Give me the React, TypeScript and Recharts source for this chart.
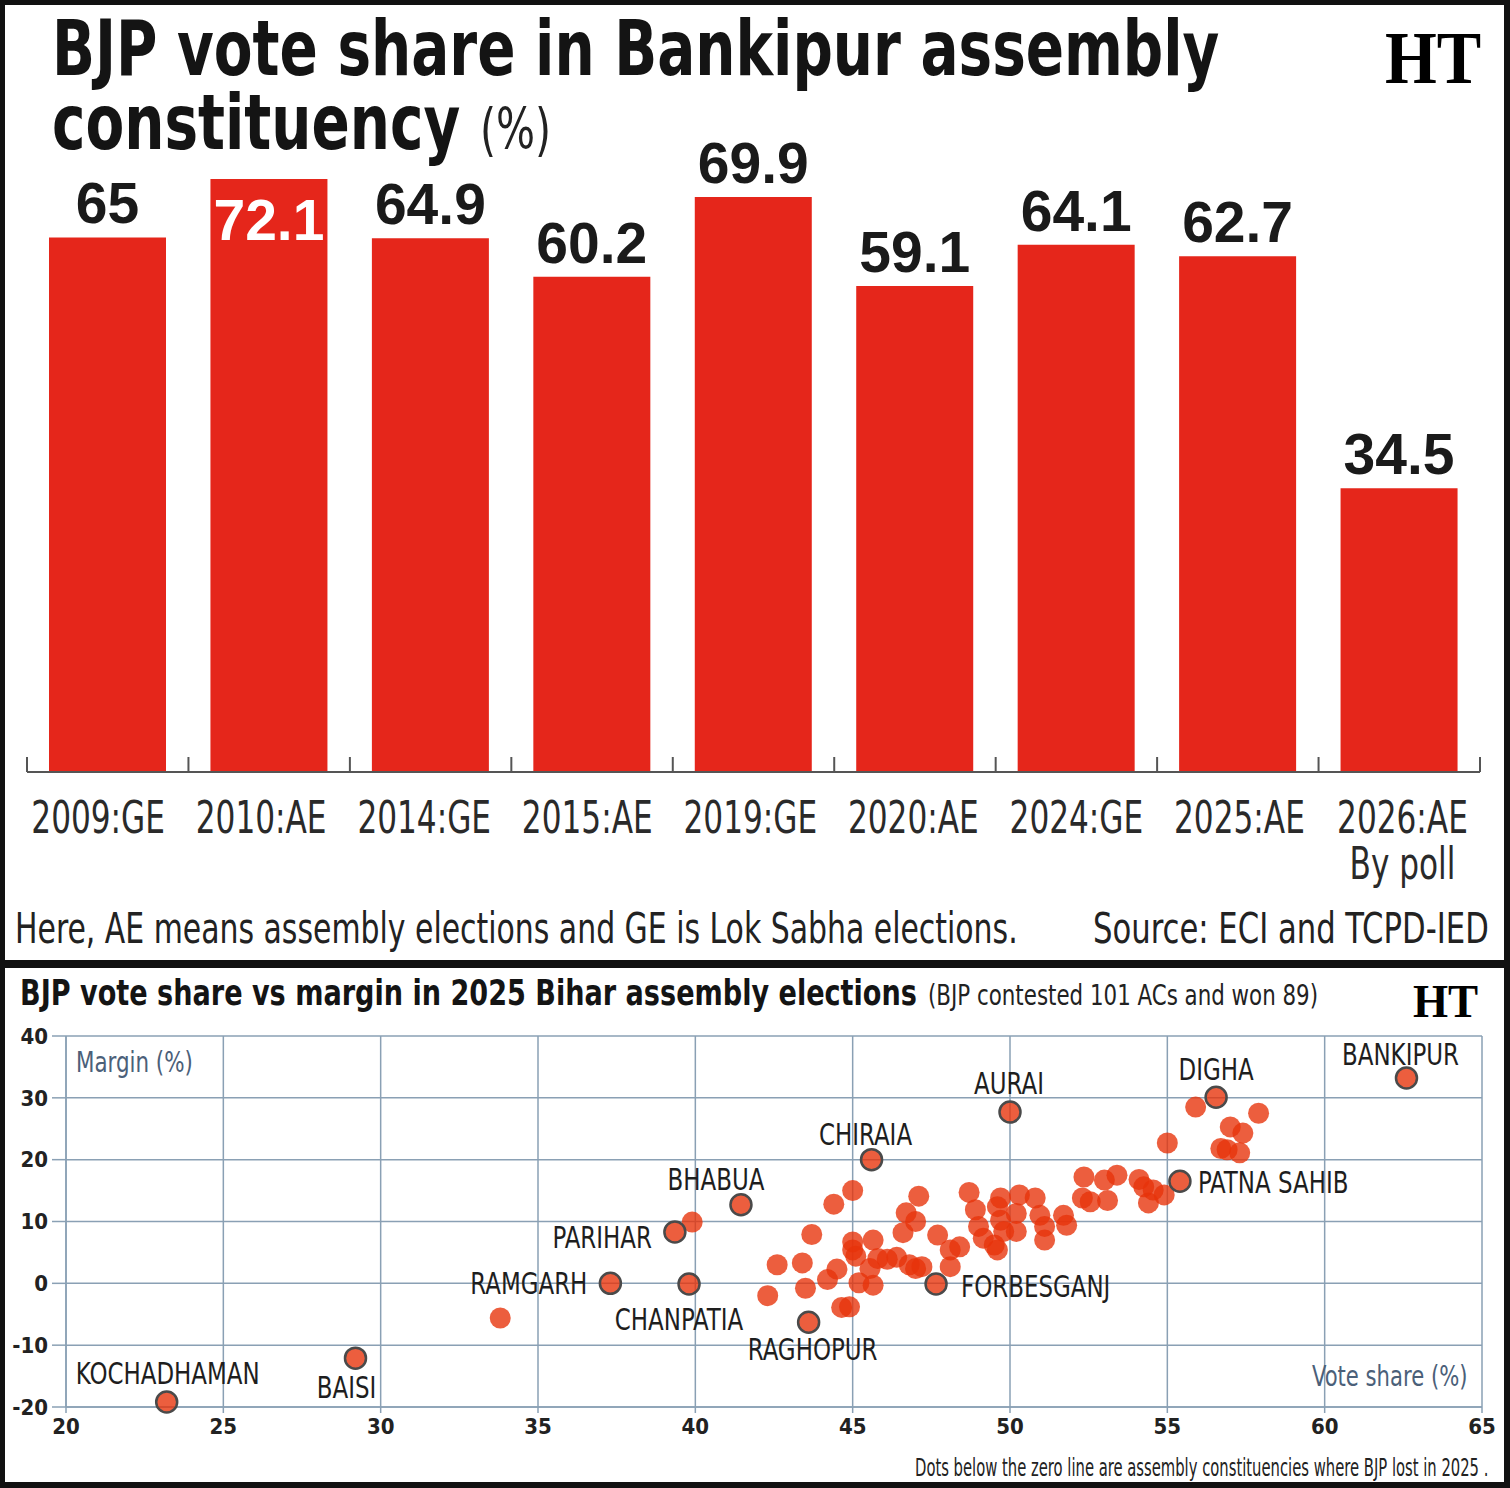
import {
  Bar,
  BarChart,
  CartesianGrid,
  LabelList,
  Scatter,
  ScatterChart,
  XAxis,
  YAxis,
} from 'recharts';

const NARROW = "'DejaVu Sans Condensed', 'Liberation Sans Narrow', 'Open Sans', sans-serif";
const WIDE = "'Liberation Sans', 'Open Sans', sans-serif";
const SERIF = "'Liberation Serif', 'DejaVu Serif', serif";

const BAR_RED = '#e5261b';
const DOT_RED = '#e7330a';
const GRID = '#8aa0b4';
const AXIS = '#555';

// ---- top chart: BJP vote share in Bankipur ----
const elections = [
  '2009:GE',
  '2010:AE',
  '2014:GE',
  '2015:AE',
  '2019:GE',
  '2020:AE',
  '2024:GE',
  '2025:AE',
  '2026:AE',
];
const electionNotes = ['', '', '', '', '', '', '', '', 'By poll'];
const bjpShare = [65, 72.1, 64.9, 60.2, 69.9, 59.1, 64.1, 62.7, 34.5];

// ---- bottom chart: vote share vs margin, 2025 ----
const acShare = [
  33.8, 39.9, 42.3, 42.6, 43.4, 43.5, 43.7, 44.2, 44.4, 44.5, 44.65, 44.9,
  45.0, 45.0, 45.0, 45.1, 45.2, 45.65, 45.65, 45.55, 45.8, 46.1, 46.4, 46.8,
  47.0, 46.6, 46.7, 47.0, 47.1, 47.2, 47.7, 48.1, 48.1, 48.4, 48.7, 48.9,
  49.0, 49.15, 49.5, 49.6, 49.7, 49.6, 49.7, 49.8, 50.3, 50.2, 50.2, 50.8,
  50.95, 51.1, 51.1, 51.7, 51.8, 52.35, 52.3, 52.55, 53.0, 53.1, 53.4, 54.1,
  54.25, 54.4, 54.55, 54.9, 55.0, 55.9, 56.7, 56.9, 57.0, 57.3, 57.4, 57.9,
];
const acMargin = [
  -5.6, 9.9, -2.0, 3.0, 3.3, -0.8, 7.9, 0.6, 12.8, 2.3, -3.9, -3.8, 15.0,
  6.7, 5.4, 4.4, 0.1, -0.3, 7.0, 2.4, 4.0, 3.9, 4.2, 3.0, 2.4, 8.2, 11.4,
  10.0, 14.1, 2.7, 7.8, 2.7, 5.4, 5.9, 14.7, 11.9, 9.2, 7.3, 6.2, 5.4, 13.8,
  12.4, 10.2, 8.4, 14.3, 11.3, 8.4, 13.8, 11.0, 9.2, 7.0, 11.0, 9.4, 17.2,
  13.8, 13.2, 16.7, 13.4, 17.5, 16.8, 15.6, 13.0, 15.1, 14.3, 22.7, 28.5,
  21.8, 21.6, 25.3, 21.1, 24.3, 27.5,
];

const namedACs = [
  'KOCHADHAMAN',
  'BAISI',
  'RAMGARH',
  'PARIHAR',
  'CHANPATIA',
  'BHABUA',
  'RAGHOPUR',
  'CHIRAIA',
  'FORBESGANJ',
  'AURAI',
  'PATNA SAHIB',
  'DIGHA',
  'BANKIPUR',
];
const namedShare = [23.2, 29.2, 37.3, 39.35, 39.8, 41.45, 43.6, 45.6, 47.65, 50.0, 55.4, 56.55, 62.6];
const namedMargin = [-19.2, -12.1, 0.0, 8.3, -0.1, 12.7, -6.3, 20.0, -0.1, 27.7, 16.5, 30.1, 33.2];

const shareTicks = [20, 25, 30, 35, 40, 45, 50, 55, 60, 65];
const marginTicks = [-20, -10, 0, 10, 20, 30, 40];

// where each name sits next to its dot
const labelSide: Record<string, { side: 'top' | 'bottom' | 'left' | 'right'; dx: number; dy: number }> = {
  KOCHADHAMAN: { side: 'top', dx: 1, dy: -18 },
  BAISI: { side: 'bottom', dx: -9, dy: 40 },
  RAMGARH: { side: 'left', dx: -23, dy: 11 },
  PARIHAR: { side: 'left', dx: -23, dy: 16 },
  CHANPATIA: { side: 'bottom', dx: -10, dy: 46 },
  BHABUA: { side: 'top', dx: -25, dy: -15 },
  RAGHOPUR: { side: 'bottom', dx: 4, dy: 38 },
  CHIRAIA: { side: 'top', dx: -6, dy: -15 },
  FORBESGANJ: { side: 'right', dx: 25, dy: 13 },
  AURAI: { side: 'top', dx: -1, dy: -18 },
  'PATNA SAHIB': { side: 'right', dx: 18, dy: 12 },
  DIGHA: { side: 'top', dx: 0, dy: -17 },
  BANKIPUR: { side: 'top', dx: -6, dy: -13 },
};

const barData = elections.map((e, i) => ({ election: e, note: electionNotes[i], share: bjpShare[i] }));
const otherACs = acShare.map((v, i) => ({ share: v, margin: acMargin[i] }));
const labelledACs = namedACs.map((n, i) => ({ name: n, share: namedShare[i], margin: namedMargin[i] }));

const INSIDE_LABEL = 1; // 72.1 sits inside its bar under the title

// squeezed text: the HT face is far narrower than anything installed
const SqText = ({ x, y, sx, anchor = 'start', children, ...rest }: any) => (
  <text transform={`translate(${x},${y}) scale(${sx},1)`} textAnchor={anchor} {...rest}>
    {children}
  </text>
);

// category label plus the small upward ticks on the band edges
const ElectionTick = (props: any) => {
  const { x, y, payload, index } = props;
  const note = electionNotes[index];
  const half = payload && payload.offset ? payload.offset : 0;
  const last = index === elections.length - 1;
  // labels in the original are spread a touch wider than the bars
  const shift = (index - 6) * 1.6;
  return (
    <g>
      {half ? (
        <line x1={x - half} x2={x - half} y1={y - 15} y2={y} stroke={AXIS} strokeWidth={2} />
      ) : null}
      {half && last ? (
        <line x1={x + half} x2={x + half} y1={y - 15} y2={y} stroke={AXIS} strokeWidth={2} />
      ) : null}
      <SqText x={x + shift} y={y + 61} sx={0.77} anchor="middle" fontFamily={NARROW} fontSize={45} fill="#2a2a2a">
        <tspan x={0}>{payload.value}</tspan>
        {note ? (
          <tspan x={0} dy={46}>
            {note}
          </tspan>
        ) : null}
      </SqText>
    </g>
  );
};

const ValueLabel = (props: any) => {
  const { x, y, width, value, index } = props;
  const inside = index === INSIDE_LABEL;
  return (
    <text
      x={x + width / 2}
      y={inside ? y + 61 : y - 14}
      textAnchor="middle"
      fontFamily={WIDE}
      fontWeight={700}
      fontSize={57}
      fill={inside ? '#ffffff' : '#1a1a1a'}
    >
      {value}
    </text>
  );
};

const PlainDot = (props: any) => (
  <circle cx={props.cx} cy={props.cy} r={10.5} fill={DOT_RED} fillOpacity={0.79} />
);

const NamedDot = (props: any) => {
  const { cx, cy, payload } = props;
  const pos = labelSide[payload.name];
  const anchor = pos.side === 'left' ? 'end' : pos.side === 'right' ? 'start' : 'middle';
  return (
    <g>
      <circle
        cx={cx}
        cy={cy}
        r={10.5}
        fill={DOT_RED}
        fillOpacity={0.79}
        stroke="#4a4a4a"
        strokeWidth={2.5}
      />
      <SqText
        x={cx + pos.dx}
        y={cy + pos.dy}
        sx={0.85}
        anchor={anchor}
        fontFamily={NARROW}
        fontSize={30}
        fill="#1e1e1e"
      >
        {payload.name}
      </SqText>
    </g>
  );
};

export default function App() {
  return (
    <div
      style={{
        position: 'absolute',
        left: 0,
        top: 0,
        width: 1510,
        height: 1488,
        background: '#111',
        overflow: 'hidden',
      }}
    >
      <div style={{ position: 'absolute', left: 5, top: 5, width: 1499, height: 955, background: '#fff' }} />
      <div style={{ position: 'absolute', left: 5, top: 968, width: 1499, height: 514, background: '#fff' }} />

      <div style={{ position: 'absolute', left: 0, top: 0 }}>
        <BarChart
          width={1510}
          height={960}
          data={barData}
          margin={{ top: 114, right: 30, left: 27, bottom: 68 }}
        >
          <YAxis hide domain={[0, 80]} />
          <Bar dataKey="share" fill={BAR_RED} barSize={117} isAnimationActive={false}>
            <LabelList dataKey="share" content={<ValueLabel />} />
          </Bar>
          <XAxis
            dataKey="election"
            interval={0}
            height={120}
            axisLine={{ stroke: AXIS, strokeWidth: 2 }}
            tickLine={false}
            tickSize={0}
            tickMargin={0}
            tick={<ElectionTick />}
          />
        </BarChart>
      </div>

      <div style={{ position: 'absolute', left: 0, top: 967 }}>
        <ScatterChart
          width={1510}
          height={515}
          margin={{ top: 69, right: 28, left: 6, bottom: 35 }}
        >
          <CartesianGrid stroke={GRID} strokeWidth={1.5} />
          <XAxis
            type="number"
            dataKey="share"
            domain={[20, 65]}
            ticks={shareTicks}
            height={40}
            axisLine={{ stroke: GRID, strokeWidth: 1.5 }}
            tickLine={{ stroke: GRID, strokeWidth: 1.5 }}
            tickSize={6}
            tickMargin={5}
            tick={{ fontFamily: NARROW, fontSize: 22, fontWeight: 700, fill: '#222' }}
          />
          <YAxis
            type="number"
            dataKey="margin"
            domain={[-20, 40]}
            ticks={marginTicks}
            width={60}
            axisLine={{ stroke: GRID, strokeWidth: 1.5 }}
            tickLine={{ stroke: GRID, strokeWidth: 1.5 }}
            tickSize={14}
            tickMargin={4}
            tick={{ fontFamily: NARROW, fontSize: 22, fontWeight: 700, fill: '#222' }}
          />
          <Scatter data={otherACs} shape={<PlainDot />} isAnimationActive={false} />
          <Scatter data={labelledACs} shape={<NamedDot />} isAnimationActive={false} />
        </ScatterChart>
      </div>

      <svg
        width={1510}
        height={1488}
        style={{ position: 'absolute', left: 0, top: 0, pointerEvents: 'none' }}
      >
        <SqText x={52} y={75} sx={0.815} fontFamily={NARROW} fontWeight={700} fontSize={77} fill="#141414">
          <tspan x={0}>BJP vote share in Bankipur assembly</tspan>
          <tspan x={0} dy={74}>
            constituency
          </tspan>
          <tspan x={(480 - 52) / 0.815} fontWeight={400} fontSize={56} fill="#222">
            (%)
          </tspan>
        </SqText>
        <SqText x={1385} y={83} sx={0.9} fontFamily={SERIF} fontWeight={700} fontSize={74} fill="#000">
          HT
        </SqText>
        <SqText x={15} y={943} sx={0.773} fontFamily={NARROW} fontSize={43} fill="#222">
          Here, AE means assembly elections and GE is Lok Sabha elections.
        </SqText>
        <SqText x={1093} y={943} sx={0.793} fontFamily={NARROW} fontSize={43} fill="#222">
          Source: ECI and TCPD-IED
        </SqText>

        <SqText x={20} y={1005} sx={0.861} fontFamily={NARROW} fontWeight={700} fontSize={35} fill="#141414">
          BJP vote share vs margin in 2025 Bihar assembly elections
        </SqText>
        <SqText x={928} y={1005} sx={0.82} fontFamily={NARROW} fontSize={29} fill="#222">
          (BJP contested 101 ACs and won 89)
        </SqText>
        <SqText x={1413} y={1017} sx={0.98} fontFamily={SERIF} fontWeight={700} fontSize={46} fill="#000">
          HT
        </SqText>
        <SqText x={76} y={1072} sx={0.85} fontFamily={NARROW} fontSize={28} fill="#4b6079">
          Margin (%)
        </SqText>
        <SqText x={1312} y={1386} sx={0.84} fontFamily={NARROW} fontSize={28} fill="#4b6079">
          Vote share (%)
        </SqText>
        <SqText x={915} y={1476} sx={0.685} fontFamily={NARROW} fontSize={24} fill="#222">
          Dots below the zero line are assembly constituencies where BJP lost in 2025 .
        </SqText>
      </svg>
    </div>
  );
}
